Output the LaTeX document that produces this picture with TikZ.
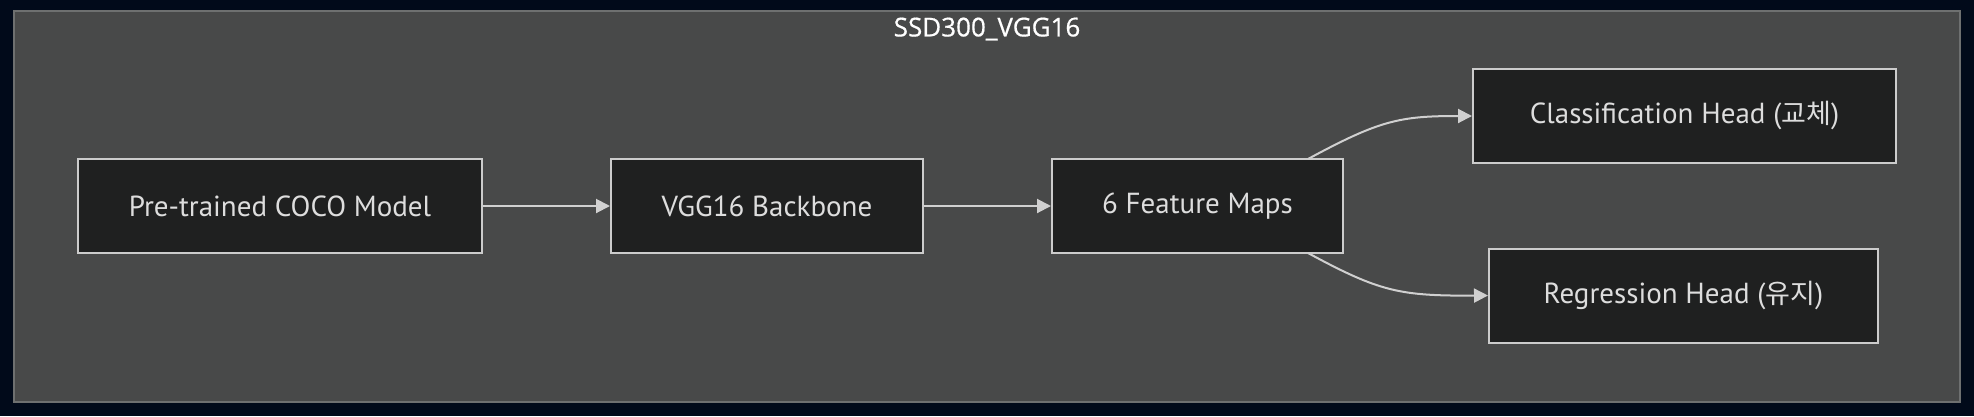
\documentclass[tikz,border=0pt]{standalone}
\usepackage{fontspec}
\setmainfont{PT Sans}
\newfontfamily\titlefont[FakeBold=0.6]{Open Sans}
\newfontfamily\kr{Noto Sans CJK KR}
\usetikzlibrary{arrows.meta}
\definecolor{pagebg}{HTML}{010A1A}
\definecolor{clusterfill}{HTML}{484949}
\definecolor{clusterline}{HTML}{6E7070}
\definecolor{nodefill}{HTML}{1F2020}
\definecolor{nodeline}{HTML}{CCCCCC}
\definecolor{nodetext}{HTML}{DDDDDD}
\definecolor{edgecol}{HTML}{D0D0D0}
\begin{document}
\begin{tikzpicture}[x=1pt,y=-1pt,
  box/.style={draw=nodeline,line width=2pt,fill=nodefill,text=nodetext,
    font=\fontsize{29}{34}\selectfont,minimum height=94pt,inner sep=0pt,anchor=center},
  edge/.style={draw=edgecol,line width=2pt,-{Triangle[length=14pt,width=14pt]}}]
\useasboundingbox (0,0) rectangle (1974,416);
\fill[pagebg] (0,0) rectangle (1974,416);
\draw[fill=clusterfill,draw=clusterline,line width=2pt] (14,11) rectangle (1960,402);
\node[text=white,font=\titlefont\fontsize{26}{30}\selectfont] (title) at (987,29) {SSD300\_VGG16};
\node[box,minimum width=404pt] (coco) at (280,206) {Pre-trained COCO Model};
\node[box,minimum width=312pt] (vgg) at (767,206) {VGG16 Backbone};
\node[box,minimum width=291pt] (feat) at (1197.5,206) {6 Feature Maps};
\node[box,minimum width=423pt] (cls) at (1684.5,116) {Classification Head ({\kr\fontsize{27}{32}\selectfont 교체})};
\node[box,minimum width=389pt] (reg) at (1683.5,295.5) {Regression Head ({\kr\fontsize{27}{32}\selectfont 유지})};
\coordinate (ft) at (1308,159);
\coordinate (fb) at (1308,253);
\draw[edge] (coco) -- (vgg);
\draw[edge] (vgg) -- (feat);
\draw[edge] (ft) .. controls (1380,120) and (1400,116) .. (cls.west);
\draw[edge] (fb) .. controls (1380,292) and (1400,296) .. (reg.west);
\end{tikzpicture}
\end{document}
